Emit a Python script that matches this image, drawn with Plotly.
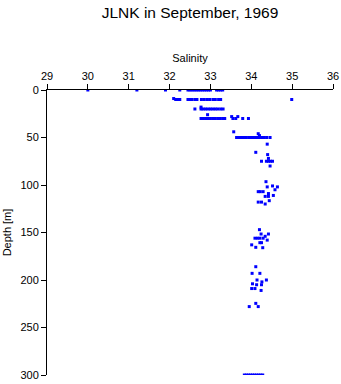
import plotly.graph_objects as go

# (depth, list of salinities)
depth_levels = [0, 9, 10, 18, 20, 26, 28, 30, 44, 46, 48, 50, 57, 65.6, 68, 72, 75, 80,
                96.5, 101, 102, 105, 107, 109, 111, 112, 116.5, 118, 120,
                147, 151.6, 154, 156, 158, 160.7, 163, 165.6, 166,
                186, 193, 200, 202, 204, 205, 209, 211, 224.6, 228, 300]
salinity_levels = [
    [30.0, 31.2, 31.9, 32.25, 32.45, 32.5, 32.55, 32.6, 32.65, 32.7, 32.75, 32.8, 32.85, 32.9, 32.95, 33.0, 33.15, 33.2, 33.25, 33.3],
    [32.1],
    [32.15, 32.2, 32.25, 32.45, 32.5, 32.55, 32.62, 32.67, 32.78, 32.85, 32.92, 32.98, 33.06, 33.12, 33.2, 33.25, 34.99],
    [32.77],
    [32.62, 32.77, 32.82, 32.88, 32.94, 33.0, 33.06, 33.12, 33.18, 33.25, 33.31],
    [32.93],
    [33.52, 33.67],
    [32.77, 32.82, 32.88, 32.94, 33.0, 33.06, 33.12, 33.18, 33.24, 33.3, 33.35, 33.55, 33.62, 33.79, 33.93],
    [33.57],
    [34.17],
    [34.2],
    [33.64, 33.7, 33.76, 33.82, 33.88, 33.94, 33.97, 34.03, 34.08, 34.13, 34.2, 34.26, 34.32, 34.38, 34.46],
    [34.39],
    [34.11],
    [34.40],
    [34.42],
    [34.25, 34.37, 34.42, 34.47, 34.52],
    [34.46],
    [34.36],
    [34.52],
    [34.39, 34.64],
    [34.58],
    [34.17, 34.22, 34.29],
    [34.42],
    [34.54],
    [34.34, 34.42],
    [34.44],
    [34.17, 34.25],
    [34.34],
    [34.20],
    [34.24, 34.42],
    [34.34],
    [34.09, 34.15, 34.21, 34.29],
    [34.39],
    [34.21, 34.25],
    [34.01],
    [34.11],
    [34.28],
    [34.11],
    [34.02, 34.21],
    [34.14, 34.37],
    [34.26],
    [34.03],
    [34.13, 34.25],
    [34.01, 34.09],
    [34.24],
    [34.11],
    [33.95, 34.17],
    [33.83, 33.88, 33.93, 33.98, 34.03, 34.08, 34.13, 34.18, 34.23, 34.28],
]

depth = []
salinity = []
for d, ss in zip(depth_levels, salinity_levels):
    for s in ss:
        depth.append(d)
        salinity.append(s)

x_ticks = [29, 30, 31, 32, 33, 34, 35, 36]
y_ticks = [0, 50, 100, 150, 200, 250, 300]

fig = go.Figure(go.Scatter(
    x=salinity, y=depth, mode="markers",
    marker=dict(symbol="square", size=3, color="#0000ff", line=dict(width=0)),
    hoverinfo="x+y",
))

font = "Liberation Sans, Arial, sans-serif"
fig.update_layout(
    width=341, height=384,
    margin=dict(l=47, r=8, t=90, b=9, autoexpand=False),
    paper_bgcolor="white", plot_bgcolor="white",
    showlegend=False,
    font=dict(family=font, size=11, color="black"),
    title=dict(text="JLNK in September, 1969", x=0.5, xref="paper", xanchor="center",
               y=0.968, yanchor="middle", font=dict(family=font, size=15.5, color="black")),
    xaxis=dict(side="top", range=[29, 36], tickvals=x_ticks, ticks="outside", ticklen=5,
               tickcolor="black", showline=True, linecolor="black", linewidth=1,
               automargin=False,
               showgrid=False, zeroline=False, title=dict(text="Salinity", standoff=4,
               font=dict(size=11))),
    yaxis=dict(range=[300, 0], tickvals=y_ticks, ticks="outside", ticklen=5,
               tickcolor="black", showline=True, linecolor="black", linewidth=1,
               automargin=False,
               showgrid=False, zeroline=False, title=dict(text="Depth [m]", standoff=6,
               font=dict(size=11))),
)

fig.write_html("out.html")
